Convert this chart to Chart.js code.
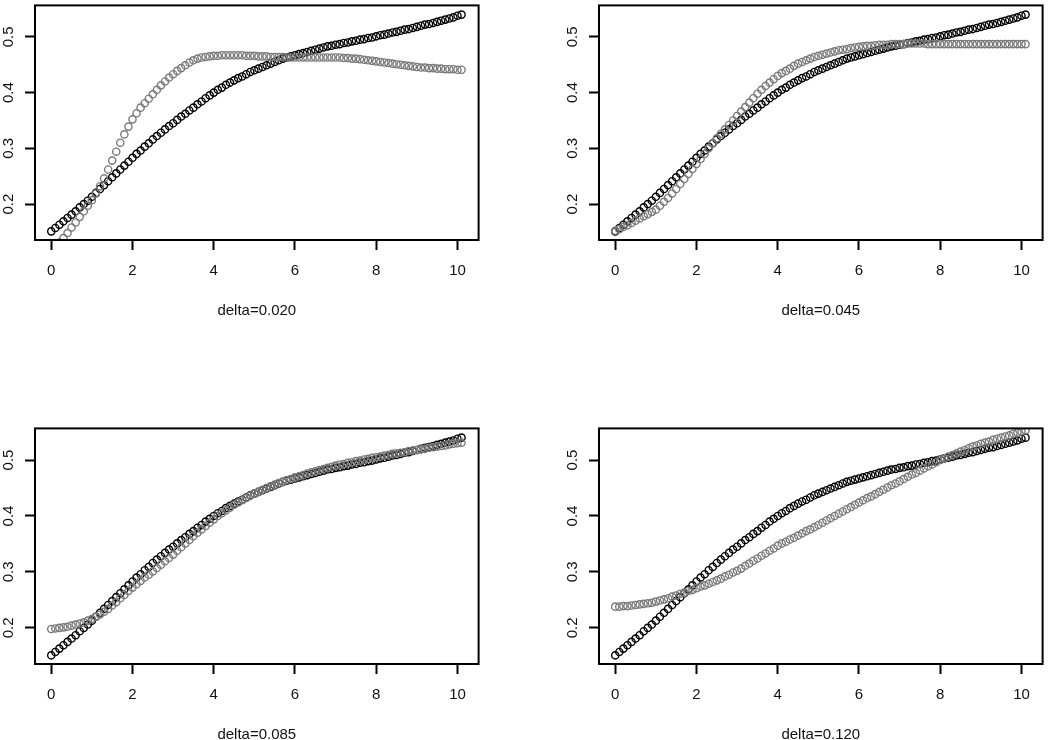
<!DOCTYPE html>
<html>
<head>
<meta charset="utf-8">
<script src="https://cdn.jsdelivr.net/npm/chart.js@4.4.1/dist/chart.umd.min.js"></script>
<style>
  body { margin: 0; background: #fff; overflow: hidden; }
  .panel { position: absolute; }
</style>
</head>
<body>
<div class="panel" style="left:0;top:0"><canvas id="graph01" width="484" height="320"></canvas></div>
<div class="panel" style="left:564px;top:0"><canvas id="graph02" width="484" height="320"></canvas></div>
<div class="panel" style="left:0;top:423px"><canvas id="graph03" width="484" height="321"></canvas></div>
<div class="panel" style="left:564px;top:423px"><canvas id="graph04" width="484" height="321"></canvas></div>
<script>
const xs = [
  0.0, 0.1, 0.2, 0.3, 0.4, 0.5, 0.6, 0.7, 0.8, 0.9, 1.0,
  1.1, 1.2, 1.3, 1.4, 1.5, 1.6, 1.7, 1.8, 1.9, 2.0,
  2.1, 2.2, 2.3, 2.4, 2.5, 2.6, 2.7, 2.8, 2.9, 3.0,
  3.1, 3.2, 3.3, 3.4, 3.5, 3.6, 3.7, 3.8, 3.9, 4.0,
  4.1, 4.2, 4.3, 4.4, 4.5, 4.6, 4.7, 4.8, 4.9, 5.0,
  5.1, 5.2, 5.3, 5.4, 5.5, 5.6, 5.7, 5.8, 5.9, 6.0,
  6.1, 6.2, 6.3, 6.4, 6.5, 6.6, 6.7, 6.8, 6.9, 7.0,
  7.1, 7.2, 7.3, 7.4, 7.5, 7.6, 7.7, 7.8, 7.9, 8.0,
  8.1, 8.2, 8.3, 8.4, 8.5, 8.6, 8.7, 8.8, 8.9, 9.0,
  9.1, 9.2, 9.3, 9.4, 9.5, 9.6, 9.7, 9.8, 9.9, 10.0,
  10.1,
];

// black circles, same curve in all four panels
const base = [
  0.151, 0.157, 0.163, 0.169, 0.175, 0.181, 0.187, 0.194, 0.200, 0.206, 0.213,
  0.220, 0.227, 0.234, 0.241, 0.248, 0.255, 0.262, 0.269, 0.276, 0.283,
  0.290, 0.296, 0.303, 0.309, 0.316, 0.322, 0.328, 0.334, 0.340, 0.345,
  0.351, 0.357, 0.362, 0.368, 0.373, 0.379, 0.384, 0.390, 0.395, 0.400,
  0.405, 0.409, 0.414, 0.418, 0.422, 0.426, 0.429, 0.433, 0.437, 0.440,
  0.443, 0.446, 0.449, 0.452, 0.455, 0.458, 0.461, 0.463, 0.465, 0.467,
  0.469, 0.471, 0.473, 0.475, 0.477, 0.479, 0.481, 0.483, 0.484, 0.486,
  0.487, 0.489, 0.490, 0.492, 0.493, 0.495, 0.496, 0.498, 0.499, 0.501,
  0.503, 0.504, 0.506, 0.508, 0.509, 0.511, 0.513, 0.514, 0.516, 0.518,
  0.520, 0.522, 0.523, 0.525, 0.527, 0.529, 0.531, 0.533, 0.535, 0.538,
  0.540,
];

const gray020 = [
  0.112, 0.122, 0.131, 0.139, 0.148, 0.158, 0.167, 0.177, 0.187, 0.197, 0.207,
  0.219, 0.232, 0.246, 0.262, 0.278, 0.294, 0.310, 0.325, 0.339, 0.352,
  0.363, 0.373, 0.381, 0.389, 0.397, 0.405, 0.413, 0.420, 0.427, 0.433,
  0.439, 0.444, 0.449, 0.454, 0.458, 0.461, 0.463, 0.464, 0.465, 0.466,
  0.466, 0.467, 0.467, 0.467, 0.467, 0.467, 0.467, 0.466, 0.466, 0.466,
  0.465, 0.465, 0.465, 0.464, 0.464, 0.464, 0.464, 0.463, 0.463, 0.463,
  0.463, 0.463, 0.463, 0.463, 0.463, 0.463, 0.463, 0.463, 0.463, 0.463,
  0.463, 0.462, 0.462, 0.461, 0.461, 0.460, 0.459, 0.458, 0.457, 0.456,
  0.455, 0.454, 0.453, 0.452, 0.451, 0.450, 0.449, 0.448, 0.447, 0.446,
  0.445, 0.445, 0.444, 0.444, 0.443, 0.443, 0.442, 0.442, 0.442, 0.441,
  0.441,
];

const gray045 = [
  0.152, 0.155, 0.159, 0.162, 0.166, 0.170, 0.174, 0.178, 0.182, 0.186, 0.190,
  0.197, 0.204, 0.211, 0.219, 0.227, 0.236, 0.245, 0.254, 0.263, 0.272,
  0.281, 0.290, 0.300, 0.309, 0.318, 0.326, 0.334, 0.342, 0.350, 0.358,
  0.366, 0.374, 0.382, 0.390, 0.398, 0.405, 0.412, 0.418, 0.424, 0.430,
  0.435, 0.439, 0.443, 0.448, 0.452, 0.455, 0.458, 0.461, 0.464, 0.466,
  0.468, 0.470, 0.472, 0.474, 0.476, 0.477, 0.478, 0.480, 0.481, 0.482,
  0.483, 0.484, 0.484, 0.485, 0.486, 0.486, 0.486, 0.487, 0.487, 0.487,
  0.487, 0.488, 0.488, 0.488, 0.488, 0.488, 0.487, 0.487, 0.487, 0.487,
  0.487, 0.487, 0.487, 0.487, 0.487, 0.487, 0.487, 0.487, 0.487, 0.487,
  0.487, 0.487, 0.487, 0.487, 0.487, 0.487, 0.487, 0.487, 0.487, 0.487,
  0.487,
];

const gray085 = [
  0.198, 0.199, 0.200, 0.201, 0.202, 0.204, 0.206, 0.208, 0.210, 0.213, 0.216,
  0.220, 0.224, 0.229, 0.234, 0.240, 0.246, 0.253, 0.259, 0.266, 0.272,
  0.278, 0.284, 0.290, 0.295, 0.301, 0.307, 0.313, 0.319, 0.325, 0.331,
  0.338, 0.344, 0.351, 0.357, 0.364, 0.370, 0.376, 0.382, 0.388, 0.394,
  0.400, 0.405, 0.410, 0.415, 0.420, 0.424, 0.428, 0.432, 0.436, 0.440,
  0.443, 0.447, 0.450, 0.453, 0.456, 0.459, 0.461, 0.464, 0.466, 0.469,
  0.471, 0.473, 0.476, 0.478, 0.480, 0.482, 0.484, 0.486, 0.488, 0.490,
  0.492, 0.493, 0.495, 0.496, 0.498, 0.499, 0.501, 0.502, 0.504, 0.505,
  0.506, 0.508, 0.509, 0.511, 0.512, 0.513, 0.514, 0.516, 0.517, 0.518,
  0.519, 0.520, 0.522, 0.523, 0.524, 0.525, 0.526, 0.528, 0.529, 0.530,
  0.531,
];

const gray120 = [
  0.238, 0.238, 0.239, 0.239, 0.240, 0.241, 0.242, 0.243, 0.244, 0.245, 0.247,
  0.249, 0.251, 0.253, 0.256, 0.258, 0.261, 0.263, 0.266, 0.268, 0.271,
  0.274, 0.276, 0.279, 0.282, 0.285, 0.288, 0.292, 0.295, 0.299, 0.302,
  0.306, 0.311, 0.315, 0.320, 0.324, 0.329, 0.333, 0.338, 0.342, 0.347,
  0.351, 0.354, 0.358, 0.361, 0.365, 0.369, 0.373, 0.376, 0.380, 0.384,
  0.388, 0.392, 0.396, 0.400, 0.404, 0.408, 0.412, 0.416, 0.420, 0.424,
  0.428, 0.432, 0.435, 0.439, 0.443, 0.447, 0.451, 0.455, 0.458, 0.462,
  0.466, 0.470, 0.474, 0.477, 0.481, 0.485, 0.489, 0.492, 0.496, 0.500,
  0.503, 0.506, 0.509, 0.512, 0.515, 0.518, 0.521, 0.524, 0.526, 0.529,
  0.531, 0.533, 0.536, 0.538, 0.540, 0.542, 0.544, 0.547, 0.549, 0.551,
  0.553,
];

const titles = ["delta=0.020", "delta=0.045", "delta=0.085", "delta=0.120"];
const xTicks = [0, 2, 4, 6, 8, 10];
const yTicks = [0.2, 0.3, 0.4, 0.5];
const yTickLabels = ["0.2", "0.3", "0.4", "0.5"];

const fontFamily = '"Liberation Sans", Arial, sans-serif';
const ink = "#111";

// R style: rotated y labels and a box round the plot region
const frame = {
  id: "frame",
  afterDraw(chart) {
    const { ctx, chartArea, scales } = chart;
    ctx.save();
    ctx.font = "15px " + fontFamily;
    ctx.fillStyle = ink;
    ctx.textAlign = "center";
    ctx.textBaseline = "alphabetic";
    yTicks.forEach((v, i) => {
      const py = scales.y.getPixelForValue(v);
      ctx.save();
      ctx.translate(chartArea.left - 22, py);
      ctx.rotate(-Math.PI / 2);
      ctx.fillText(yTickLabels[i], 0, 0);
      ctx.restore();
    });
    ctx.strokeStyle = "#000";
    ctx.lineWidth = 2;
    ctx.strokeRect(
      chartArea.left,
      chartArea.top,
      chartArea.right - chartArea.left,
      chartArea.bottom - chartArea.top
    );
    ctx.restore();
  },
};

function points(ys) {
  return xs.map((x, i) => ({ x: x, y: ys[i] }));
}

function makeChart(id, title, gray) {
  return new Chart(document.getElementById(id), {
    type: "scatter",
    data: {
      datasets: [
        {
          label: "gray",
          data: points(gray),
          borderColor: "#7a7a7a",
          backgroundColor: "rgba(0,0,0,0)",
          clip: 0,
        },
        {
          label: "base",
          data: points(base),
          borderColor: "#000",
          backgroundColor: "rgba(0,0,0,0)",
          clip: 0,
        },
      ],
    },
    options: {
      responsive: false,
      animation: false,
      events: [],
      layout: { padding: { top: 1, right: 1, left: 0, bottom: 0 } },
      elements: {
        point: { radius: 3.6, borderWidth: 1.4, pointStyle: "circle" },
      },
      plugins: {
        legend: { display: false },
        tooltip: { enabled: false },
      },
      scales: {
        x: {
          type: "linear",
          min: -0.4,
          max: 10.52,
          afterBuildTicks: (s) => {
            s.ticks = xTicks.map((v) => ({ value: v }));
          },
          afterFit: (s) => {
            s.height = 80;
          },
          border: { display: false },
          grid: {
            drawOnChartArea: false,
            tickLength: 10,
            tickWidth: 2,
            tickColor: "#000",
          },
          ticks: {
            color: ink,
            padding: 12,
            maxRotation: 0,
            font: { family: fontFamily, size: 15 },
          },
          title: {
            display: true,
            text: title,
            color: ink,
            padding: { top: 0, bottom: 0 },
            font: { family: fontFamily, size: 15 },
          },
        },
        y: {
          type: "linear",
          min: 0.1355,
          max: 0.5565,
          afterBuildTicks: (s) => {
            s.ticks = yTicks.map((v) => ({ value: v }));
          },
          afterFit: (s) => {
            s.width = 35;
          },
          border: { display: false },
          grid: {
            drawOnChartArea: false,
            tickLength: 10,
            tickWidth: 2,
            tickColor: "#000",
          },
          ticks: { display: false },
        },
      },
    },
    plugins: [frame],
  });
}

const myChart01 = makeChart("graph01", titles[0], gray020);
const myChart02 = makeChart("graph02", titles[1], gray045);
const myChart03 = makeChart("graph03", titles[2], gray085);
const myChart04 = makeChart("graph04", titles[3], gray120);
</script>
</body>
</html>
